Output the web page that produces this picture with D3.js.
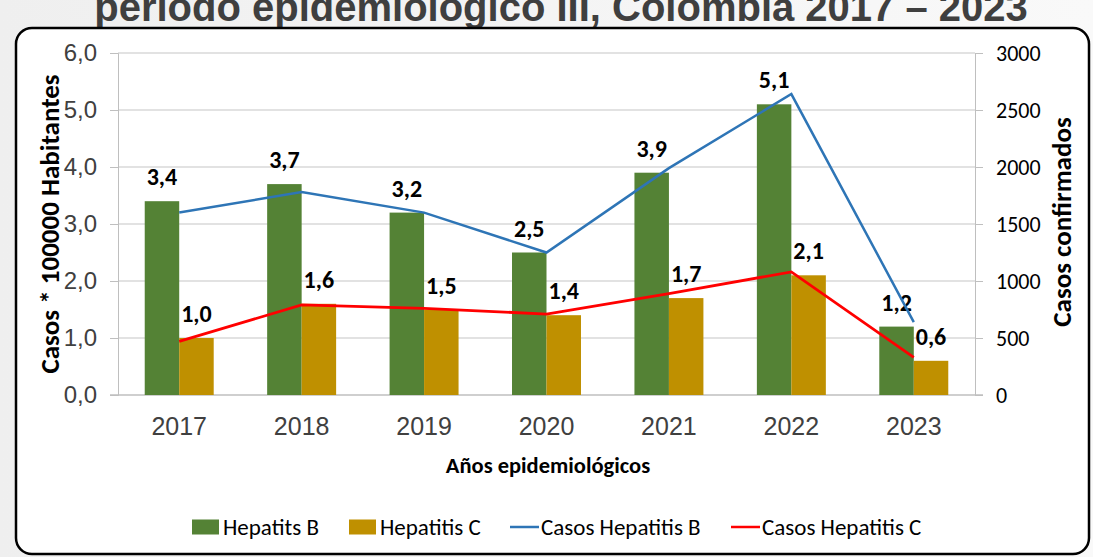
<!DOCTYPE html>
<html>
<head>
<meta charset="utf-8">
<script src="https://cdn.jsdelivr.net/npm/d3@7"></script>
<style>
    body { margin: 0; padding: 0; overflow: hidden; }
    svg { display: block; }
</style>
</head>
<body>
<div id="chart"></div>
<script>
// data
var years = ["2017", "2018", "2019", "2020", "2021", "2022", "2023"];
var tasaHepB = [3.4, 3.7, 3.2, 2.5, 3.9, 5.1, 1.2];
var tasaHepC = [1.0, 1.6, 1.5, 1.4, 1.7, 2.1, 0.6];
var casosHepB = [1600, 1780, 1600, 1250, 1990, 2640, 640];
var casosHepC = [470, 790, 760, 710, 890, 1080, 330];
var leftTicks = [0, 1, 2, 3, 4, 5, 6];
var rightTicks = [0, 500, 1000, 1500, 2000, 2500, 3000];

var svgWidth = 1093;
var svgHeight = 557;

var margin = { top: 53, bottom: 162, left: 118, right: 118 };
var width = svgWidth - margin.left - margin.right;
var height = svgHeight - margin.top - margin.bottom;

var calibri = "Carlito, Calibri, 'Liberation Sans Narrow', sans-serif";
var arial = "'Liberation Sans', Arial, sans-serif";

var svg = d3.select("#chart")
    .append("svg")
    .attr("width", svgWidth)
    .attr("height", svgHeight);

// page background + rounded frame
var grad = svg.append("defs").append("linearGradient")
    .attr("id", "bg")
    .attr("x1", "0%").attr("x2", "100%");
grad.append("stop").attr("offset", "0%").attr("stop-color", "#efefef");
grad.append("stop").attr("offset", "100%").attr("stop-color", "#f9f9f9");

svg.append("rect")
    .attr("width", svgWidth)
    .attr("height", svgHeight)
    .attr("fill", "url(#bg)");

// title of the slide, only its lower part shows in the picture
svg.append("text")
    .attr("x", 561)
    .attr("y", 21)
    .attr("text-anchor", "middle")
    .style("font-family", arial)
    .style("font-weight", "bold")
    .style("font-size", "40px")
    .attr("fill", "#3f3f3f")
    .text("período epidemiológico III, Colombia 2017 – 2023");

svg.append("rect")
    .attr("x", 16)
    .attr("y", 28)
    .attr("width", 1073)
    .attr("height", 526)
    .attr("rx", 16)
    .attr("fill", "#ffffff")
    .attr("stroke", "#000000")
    .attr("stroke-width", 2.5);

var chartGroup = svg.append("g")
    .attr("transform", `translate(${margin.left}, ${margin.top})`);

var xScale = d3.scaleBand()
    .domain(years)
    .range([0, width]);

var xSub = d3.scaleBand()
    .domain(["B", "C"])
    .range([0, xScale.bandwidth()])
    .paddingOuter(0.775);

var yLeft = d3.scaleLinear().domain([0, 6]).range([height, 0]);
var yRight = d3.scaleLinear().domain([0, 3000]).range([height, 0]);

// gridlines
chartGroup.selectAll(".grid")
    .data(leftTicks.slice(1))
    .enter()
    .append("line")
    .attr("x1", 0)
    .attr("x2", width)
    .attr("y1", d => yLeft(d))
    .attr("y2", d => yLeft(d))
    .attr("stroke", "#d9d9d9")
    .attr("stroke-width", 1.3);

// axes
var leftAxis = d3.axisLeft(yLeft)
    .tickValues(leftTicks)
    .tickSize(8)
    .tickPadding(13)
    .tickFormat(d => d3.format(".1f")(d).replace(".", ","));

var rightAxis = d3.axisRight(yRight)
    .tickValues(rightTicks)
    .tickSize(8)
    .tickPadding(13)
    .tickFormat(d3.format("d"));

var bottomAxis = d3.axisBottom(xScale)
    .tickSize(0)
    .tickPadding(22);

var yAxisL = chartGroup.append("g").call(leftAxis);
yAxisL.select(".domain").attr("stroke", "#bfbfbf");
yAxisL.selectAll(".tick line").attr("stroke", "#bfbfbf");
yAxisL.selectAll("text")
    .style("font-family", arial)
    .style("font-size", "24px")
    .attr("fill", "#404040");

var yAxisR = chartGroup.append("g")
    .attr("transform", `translate(${width}, 0)`)
    .call(rightAxis);
yAxisR.select(".domain").attr("stroke", "#bfbfbf");
yAxisR.selectAll(".tick line").attr("stroke", "#bfbfbf");
yAxisR.selectAll("text")
    .style("font-family", calibri)
    .style("font-size", "22px")
    .attr("fill", "#000000");

var xAxis = chartGroup.append("g")
    .attr("transform", `translate(0, ${height})`)
    .call(bottomAxis);
xAxis.select(".domain").remove();
xAxis.selectAll("text")
    .style("font-family", arial)
    .style("font-size", "25px")
    .attr("fill", "#404040");

chartGroup.append("line")
    .attr("x1", -8)
    .attr("x2", width + 8)
    .attr("y1", height)
    .attr("y2", height)
    .attr("stroke", "#bfbfbf")
    .attr("stroke-width", 1.3);

// bars
var barGroups = chartGroup.selectAll(".year")
    .data(years)
    .enter()
    .append("g")
    .attr("transform", d => `translate(${xScale(d)}, 0)`);

barGroups.append("rect")
    .attr("x", xSub("B"))
    .attr("y", (d, i) => yLeft(tasaHepB[i]))
    .attr("width", xSub.bandwidth())
    .attr("height", (d, i) => height - yLeft(tasaHepB[i]))
    .attr("fill", "#548235");

barGroups.append("rect")
    .attr("x", xSub("C"))
    .attr("y", (d, i) => yLeft(tasaHepC[i]))
    .attr("width", xSub.bandwidth())
    .attr("height", (d, i) => height - yLeft(tasaHepC[i]))
    .attr("fill", "#bf9000");

// lines
var cx = d => xScale(d) + xScale.bandwidth() / 2;

var lineCasos = d3.line()
    .x((d, i) => cx(years[i]))
    .y(d => yRight(d));

chartGroup.append("path")
    .datum(casosHepB)
    .attr("d", lineCasos)
    .attr("fill", "none")
    .attr("stroke", "#2e75b6")
    .attr("stroke-width", 2.5);

chartGroup.append("path")
    .datum(casosHepC)
    .attr("d", lineCasos)
    .attr("fill", "none")
    .attr("stroke", "#ff0000")
    .attr("stroke-width", 2.8);

// data labels
var fmt = d => d3.format(".1f")(d).replace(".", ",");

barGroups.append("text")
    .attr("x", xSub("B") + xSub.bandwidth() / 2)
    .attr("y", (d, i) => yLeft(tasaHepB[i]) - 16)
    .attr("text-anchor", "middle")
    .style("font-family", calibri)
    .style("font-weight", "bold")
    .style("font-size", "24px")
    .text((d, i) => fmt(tasaHepB[i]));

barGroups.append("text")
    .attr("x", xSub("C") + xSub.bandwidth() / 2)
    .attr("y", (d, i) => yLeft(tasaHepC[i]) - 16)
    .attr("text-anchor", "middle")
    .style("font-family", calibri)
    .style("font-weight", "bold")
    .style("font-size", "24px")
    .text((d, i) => fmt(tasaHepC[i]));

// axis titles
svg.append("text")
    .attr("x", 548)
    .attr("y", 473)
    .attr("text-anchor", "middle")
    .style("font-family", calibri)
    .style("font-weight", "bold")
    .style("font-size", "22.5px")
    .text("Años epidemiológicos");

svg.append("text")
    .attr("transform", "translate(59, 224) rotate(-90)")
    .attr("text-anchor", "middle")
    .style("font-family", calibri)
    .style("font-weight", "bold")
    .style("font-size", "27px")
    .text("Casos * 100000 Habitantes");

svg.append("text")
    .attr("transform", "translate(1071, 222) rotate(-90)")
    .attr("text-anchor", "middle")
    .style("font-family", calibri)
    .style("font-weight", "bold")
    .style("font-size", "27px")
    .text("Casos confirmados");

// legend
var legendItems = [
    { label: "Hepatits B", color: "#548235", type: "rect", x: 192 },
    { label: "Hepatitis C", color: "#bf9000", type: "rect", x: 349 },
    { label: "Casos Hepatitis B", color: "#2e75b6", type: "line", x: 510 },
    { label: "Casos Hepatitis C", color: "#ff0000", type: "line", x: 731 }
];

var legend = svg.append("g").attr("transform", "translate(0, 527)");

legendItems.forEach(item => {
    if (item.type === "rect") {
        legend.append("rect")
            .attr("x", item.x)
            .attr("y", -7.5)
            .attr("width", 27)
            .attr("height", 15)
            .attr("fill", item.color);
    } else {
        legend.append("line")
            .attr("x1", item.x)
            .attr("x2", item.x + 29)
            .attr("y1", 0)
            .attr("y2", 0)
            .attr("stroke", item.color)
            .attr("stroke-width", 2.5);
    }
    legend.append("text")
        .attr("x", item.x + 31)
        .attr("y", 8)
        .style("font-family", calibri)
        .style("font-size", "23px")
        .text(item.label);
});
</script>
</body>
</html>
